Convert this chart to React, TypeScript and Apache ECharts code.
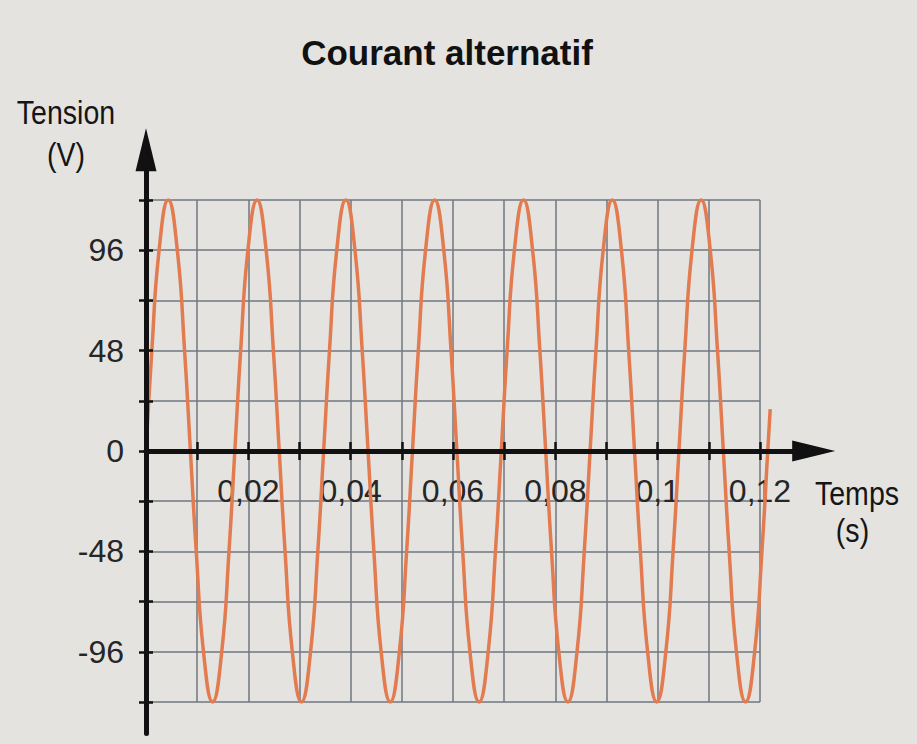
import React, { useEffect, useRef } from "react";
import * as echarts from "echarts";

// Values: time (s) and voltage (V) at zero crossings,
// ±48 / ±96 gridline crossings and at the peaks of each half-wave.
const timeValues: number[] = [
  0, 0.00114, 0.00256, 0.00434, 0.00612, 0.00754, 0.00868,
  0.00982, 0.01124, 0.01302, 0.0148, 0.01622, 0.01736,
  0.0185, 0.01992, 0.0217, 0.02348, 0.0249, 0.02604,
  0.02718, 0.0286, 0.03038, 0.03216, 0.03358, 0.03472,
  0.03586, 0.03728, 0.03906, 0.04084, 0.04226, 0.0434,
  0.04454, 0.04596, 0.04774, 0.04952, 0.05094, 0.05208,
  0.05322, 0.05464, 0.05642, 0.0582, 0.05962, 0.06076,
  0.0619, 0.06332, 0.0651, 0.06688, 0.0683, 0.06944,
  0.07058, 0.072, 0.07378, 0.07556, 0.07698, 0.07812,
  0.07926, 0.08068, 0.08246, 0.08424, 0.08566, 0.0868,
  0.08794, 0.08936, 0.09114, 0.09292, 0.09434, 0.09548,
  0.09662, 0.09804, 0.09982, 0.1016, 0.10302, 0.10416,
  0.1053, 0.10672, 0.1085, 0.11028, 0.1117, 0.11284,
  0.11398, 0.1154, 0.11718, 0.11896, 0.12038, 0.12152,
  0.122,
];
const tensionValues: number[] = [
  0, 48, 96, 120, 96, 48, 0,
  -48, -96, -120, -96, -48, 0,
  48, 96, 120, 96, 48, 0,
  -48, -96, -120, -96, -48, 0,
  48, 96, 120, 96, 48, 0,
  -48, -96, -120, -96, -48, 0,
  48, 96, 120, 96, 48, 0,
  -48, -96, -120, -96, -48, 0,
  48, 96, 120, 96, 48, 0,
  -48, -96, -120, -96, -48, 0,
  48, 96, 120, 96, 48, 0,
  -48, -96, -120, -96, -48, 0,
  48, 96, 120, 96, 48, 0,
  -48, -96, -120, -96, -48, 0,
  20,
];

const xTickValues: number[] = [0.01, 0.02, 0.03, 0.04, 0.05, 0.06, 0.07, 0.08, 0.09, 0.1, 0.11, 0.12];
const xLabelValues: number[] = [0.02, 0.04, 0.06, 0.08, 0.1, 0.12];
const xLabelTexts: string[] = ["0,02", "0,04", "0,06", "0,08", "0,1", "0,12"];
const yTickValues: number[] = [-120, -96, -72, -48, -24, 24, 48, 72, 96, 120];
const yLabelValues: number[] = [-96, -48, 0, 48, 96];
const yLabelTexts: string[] = ["-96", "-48", "0", "48", "96"];

const TITLE = "Courant alternatif";
const Y_NAME = ["Tension", "(V)"];
const X_NAME = ["Temps", "(s)"];

const FONT = "'Liberation Sans', Arial, sans-serif";
const GRID_COLOR = "#6f7780";
const AXIS_COLOR = "#111111";
const CURVE_COLOR = "#e27b4f";
const LABEL_COLOR = "#262626";

export default function App() {
  const ref = useRef<HTMLDivElement>(null);
  useEffect(() => {
    if (!ref.current) return;
    const chart = echarts.init(ref.current, null, { renderer: "svg" });
    const lookup = (vals: number[], texts: string[]) => (v: number) => {
      const i = vals.findIndex((x) => Math.abs(x - v) < 1e-9);
      return i >= 0 ? texts[i] : "";
    };
    const nameText = (text: string, x: number, y: number) => ({
      type: "text",
      x,
      y,
      scaleX: 0.84,
      style: {
        text,
        fontSize: 34,
        fontFamily: FONT,
        fill: "#151515",
        align: "center",
        verticalAlign: "middle",
      },
    });
    const option: any = {
      animation: false,
      backgroundColor: "#e5e3e0",
      grid: [
        // grid lines area
        { left: 146, top: 200, width: 614, height: 502, containLabel: false, outerBoundsMode: "none" },
        // axes with arrows
        { left: 146, top: 149.8, width: 667.7, height: 583.6, containLabel: false, outerBoundsMode: "none" },
        // upper half, whose bottom edge is the time axis: carries the time labels
        { left: 146, top: 200, width: 614, height: 251, containLabel: false, outerBoundsMode: "none" },
      ],
      xAxis: [
        {
          gridIndex: 0,
          type: "value",
          min: 0,
          max: 0.12,
          interval: 0.01,
          axisLine: { show: true, onZero: true, lineStyle: { color: AXIS_COLOR, width: 5 } },
          axisTick: { show: true, length: 9, inside: false, lineStyle: { color: AXIS_COLOR, width: 2.5 } },
          axisLabel: { show: false },
          splitLine: { show: true, lineStyle: { color: GRID_COLOR, width: 1.5 } },
        },
        {
          gridIndex: 1,
          type: "value",
          min: 0,
          max: 0.1305,
          z: 3,
          axisLine: {
            show: true,
            onZero: true,
            symbol: ["none", "triangle"],
            symbolSize: [21, 43],
            lineStyle: { color: AXIS_COLOR, width: 5 },
          },
          axisTick: {
            show: true,
            inside: true,
            length: 9,
            customValues: xTickValues,
            lineStyle: { color: AXIS_COLOR, width: 2.5 },
          },
          axisLabel: { show: false },
          splitLine: { show: false },
        },
        {
          gridIndex: 2,
          type: "value",
          min: 0,
          max: 0.12,
          axisLine: { show: false, onZero: false },
          axisTick: { show: false },
          axisLabel: {
            show: true,
            customValues: xLabelValues,
            formatter: lookup(xLabelValues, xLabelTexts),
            margin: 24,
            fontSize: 32,
            fontFamily: FONT,
            color: LABEL_COLOR,
          },
          splitLine: { show: false },
        },
      ],
      yAxis: [
        {
          gridIndex: 0,
          type: "value",
          min: -120,
          max: 120,
          interval: 24,
          axisLine: { show: true, onZero: true, lineStyle: { color: AXIS_COLOR, width: 5 } },
          axisTick: { show: true, length: 7, inside: false, lineStyle: { color: AXIS_COLOR, width: 2.5 } },
          axisLabel: {
            show: true,
            customValues: yLabelValues,
            formatter: lookup(yLabelValues, yLabelTexts),
            margin: 22,
            fontSize: 32,
            fontFamily: FONT,
            color: LABEL_COLOR,
          },
          splitLine: { show: true, lineStyle: { color: GRID_COLOR, width: 1.5 } },
        },
        {
          gridIndex: 1,
          type: "value",
          min: -135,
          max: 144,
          z: 3,
          axisLine: {
            show: true,
            onZero: true,
            symbol: ["none", "triangle"],
            symbolSize: [21, 43],
            lineStyle: { color: AXIS_COLOR, width: 5 },
          },
          axisTick: {
            show: true,
            inside: true,
            length: 7,
            customValues: yTickValues,
            lineStyle: { color: AXIS_COLOR, width: 2.5 },
          },
          axisLabel: { show: false },
          splitLine: { show: false },
        },
        {
          gridIndex: 2,
          type: "value",
          min: 0,
          max: 120,
          show: false,
        },
      ],
      series: [
        {
          type: "line",
          xAxisIndex: 1,
          yAxisIndex: 1,
          data: timeValues.map((t, i) => [t, tensionValues[i]]),
          smooth: 0.5,
          showSymbol: false,
          symbol: "none",
          clip: false,
          z: 2,
          lineStyle: { color: CURVE_COLOR, width: 3.5 },
        },
      ],
      graphic: [
        {
          type: "text",
          x: 447,
          y: 52.5,
          style: {
            text: TITLE,
            fontSize: 35,
            fontWeight: "bold",
            fontFamily: FONT,
            fill: "#111111",
            align: "center",
            verticalAlign: "middle",
          },
        },
        nameText(Y_NAME[0], 66, 113),
        nameText(Y_NAME[1], 66, 155),
        nameText(X_NAME[0], 857, 494),
        nameText(X_NAME[1], 852.5, 531),
      ],
    };
    chart.setOption(option);
    return () => chart.dispose();
  }, []);
  return <div ref={ref} style={{ position: "fixed", left: 0, top: 0, width: 917, height: 744 }} />;
}
